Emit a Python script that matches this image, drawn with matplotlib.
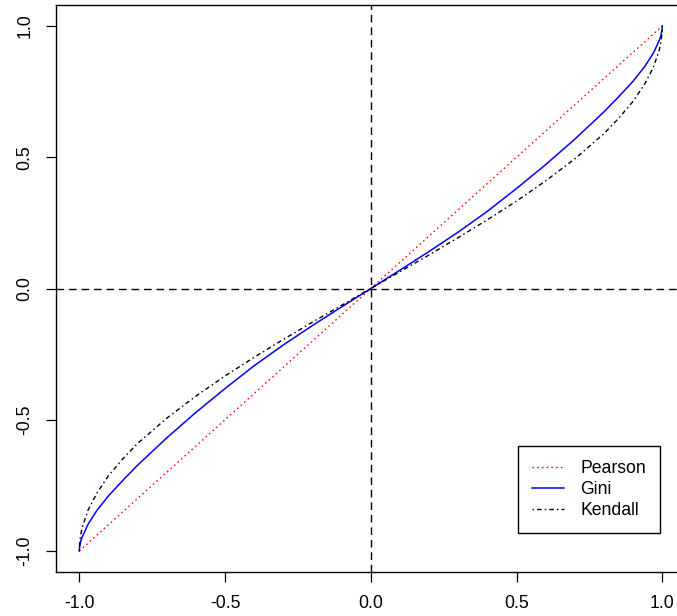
import matplotlib
matplotlib.use("Agg")
import matplotlib.pyplot as plt

plt.rcParams['font.family'] = ['Liberation Sans', 'DejaVu Sans']
plt.rcParams['axes.unicode_minus'] = False

# values (x = Pearson correlation)
pearson_x = [-1.0, 1.0]
pearson_y = [-1.0, 1.0]

curve_x = [-1.0, -0.999, -0.995, -0.99, -0.97, -0.94, -0.9, -0.85, -0.8, -0.7,
           -0.6, -0.5, -0.4, -0.3, -0.2, -0.1, 0.0, 0.1, 0.2, 0.3, 0.4, 0.5,
           0.6, 0.7, 0.8, 0.85, 0.9, 0.94, 0.97, 0.99, 0.995, 0.999, 1.0]
gini_y = [-1.0, -0.983, -0.963, -0.946, -0.898, -0.846, -0.79, -0.73, -0.673, -0.569,
          -0.472, -0.381, -0.294, -0.215, -0.141, -0.07, 0.0, 0.07, 0.141, 0.215, 0.294, 0.381,
          0.472, 0.569, 0.673, 0.73, 0.79, 0.846, 0.898, 0.946, 0.963, 0.983, 1.0]
kendall_y = [-1.0, -0.972, -0.936, -0.91, -0.844, -0.78, -0.713, -0.648, -0.59, -0.494,
             -0.41, -0.333, -0.262, -0.194, -0.128, -0.064, 0.0, 0.064, 0.128, 0.194, 0.262, 0.333,
             0.41, 0.494, 0.59, 0.648, 0.713, 0.78, 0.844, 0.91, 0.936, 0.972, 1.0]

ticks = [-1.0, -0.5, 0.0, 0.5, 1.0]
tick_labels = ["-1.0", "-0.5", "0.0", "0.5", "1.0"]

fig = plt.figure(figsize=(6.77, 6.16), dpi=100)
# plot region runs past the right edge of the image, as in the reference
ax = fig.add_axes([56 / 677, 44 / 616, 629.6 / 677, 567 / 616])

ax.axhline(0, color='black', lw=1.0, linestyle=(0, (5.5, 3.5)))
ax.axvline(0, color='black', lw=1.0, linestyle=(0, (5.5, 3.5)))

ax.plot(pearson_x, pearson_y, color='#FF0000', lw=1.0, linestyle=(0, (1.1, 2.3)), label='Pearson')
ax.plot(curve_x, gini_y, color='#0000FF', lw=1.1, label='Gini')
ax.plot(curve_x, kendall_y, color='black', lw=1.0, linestyle=(0, (1.1, 2.2, 3.3, 2.2)), label='Kendall')

ax.set_xlim(-1.08, 1.08)
ax.set_ylim(-1.08, 1.08)
ax.set_xticks(ticks)
ax.set_xticklabels(tick_labels)
ax.set_yticks(ticks)
ax.set_yticklabels(tick_labels, rotation=90, va='center')
ax.tick_params(direction='out', length=7.2, width=0.9, labelsize=12.7, pad=9)

for side in ['left', 'bottom', 'top', 'right']:
    ax.spines[side].set_linewidth(1.0)
    ax.spines[side].set_color('black')

leg = ax.legend(loc='upper left', bbox_to_anchor=(518 / 677, 1 - 446 / 616),
                bbox_transform=fig.transFigure, borderaxespad=0, fontsize=12.7,
                fancybox=False, framealpha=1, edgecolor='black',
                handlelength=1.8, handletextpad=0.95, labelspacing=0.22, borderpad=0.8)
leg.get_frame().set_linewidth(1.0)

plt.savefig("out.png", dpi=100)
